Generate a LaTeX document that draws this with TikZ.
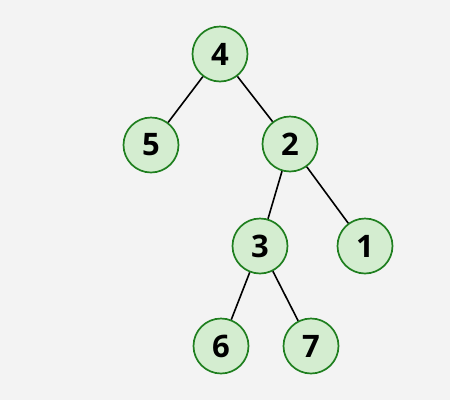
\documentclass[tikz,border=0pt]{standalone}
\usepackage{fontspec}
\setmainfont{Open Sans}
\definecolor{bg}{HTML}{F3F3F3}
\definecolor{nodefill}{HTML}{D4EDD0}
\definecolor{nodedraw}{HTML}{1F7F1F}
\begin{document}
\begin{tikzpicture}[x=1pt,y=-1pt,
  tnode/.style={circle,draw=nodedraw,fill=nodefill,line width=1.7pt,minimum size=55pt,inner sep=0pt,font=\fontsize{31}{34}\selectfont\bfseries},
  edge/.style={line width=1.6pt,black}]
\fill[bg] (0,0) rectangle (450,400);
\useasboundingbox (0,0) rectangle (450,400);
\node[tnode] (n4) at (220,54) {4};
\node[tnode] (n5) at (151,145) {5};
\node[tnode] (n2) at (290,144) {2};
\node[tnode] (n3) at (260,246) {3};
\node[tnode] (n1) at (365,246) {1};
\node[tnode] (n6) at (221,346) {6};
\node[tnode] (n7) at (311,346) {7};
\draw[edge] (n4) -- (n5);
\draw[edge] (n4) -- (n2);
\draw[edge] (n2) -- (n3);
\draw[edge] (n2) -- (n1);
\draw[edge] (n3) -- (n6);
\draw[edge] (n3) -- (n7);
\end{tikzpicture}
\end{document}
